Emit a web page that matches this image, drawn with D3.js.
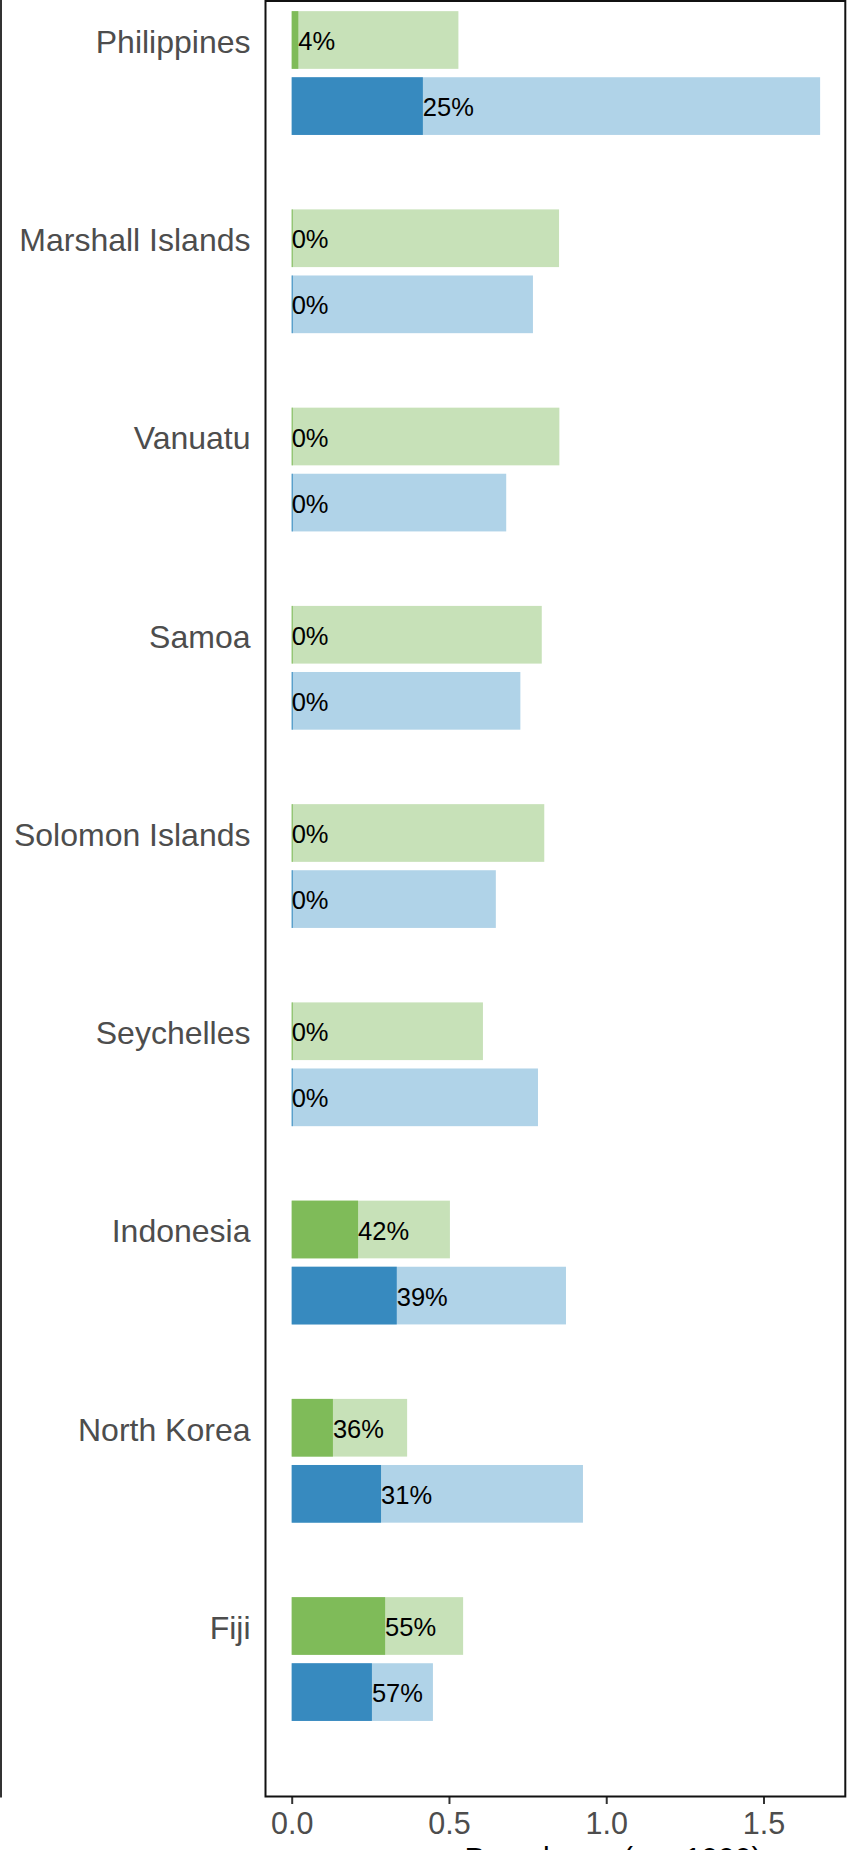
<!DOCTYPE html>
<html>
<head>
<meta charset="utf-8">
<script src="https://cdn.jsdelivr.net/npm/d3@7"></script>
<style>
  html, body { margin: 0; padding: 0; background: #fff; }
  svg { display: block; font-family: "Liberation Sans", Arial, Helvetica, sans-serif; }
</style>
</head>
<body>
<svg id="chart" width="851" height="1850"></svg>
<script>
// ---- data ----
const countries = ["Philippines", "Marshall Islands", "Vanuatu", "Samoa", "Solomon Islands",
                   "Seychelles", "Indonesia", "North Korea", "Fiji"];
// green series (upper bar of each pair)
const greenTotal = [0.530, 0.850, 0.851, 0.795, 0.803, 0.608, 0.503, 0.367, 0.545];
const greenPart  = [0.021, 0, 0, 0, 0, 0, 0.211, 0.131, 0.297];
const greenLabel = ["4%", "0%", "0%", "0%", "0%", "0%", "42%", "36%", "55%"];
// blue series (lower bar of each pair)
const blueTotal  = [1.680, 0.767, 0.682, 0.727, 0.649, 0.783, 0.872, 0.926, 0.449];
const bluePart   = [0.417, 0, 0, 0, 0, 0, 0.334, 0.284, 0.255];
const blueLabel  = ["25%", "0%", "0%", "0%", "0%", "0%", "39%", "31%", "57%"];
const xTicks = [0, 0.5, 1.0, 1.5];
const xTitle = "Prevalence (per 1000)";

// ---- layout ----
const svg = d3.select("#chart");
const panel = { left: 265.5, right: 845.3, top: 1, bottom: 1796.5 };
const col = {
  greenLight: "#c7e1b8", greenDark: "#7fbb59",
  blueLight: "#b0d3e8", blueDark: "#378abf"
};

const x = d3.scaleLinear().domain([0, 1.5]).range([291.7, 763.5]);
const y = d3.scalePoint().domain(countries).range([40, 1626]);
const step = y.step();
const barH = step * 0.291;
const blueOffset = step / 3;

// outer left line (neighbouring panel edge)
svg.append("line")
  .attr("x1", 1).attr("x2", 1).attr("y1", 0).attr("y2", 1797.5)
  .attr("stroke", "#333").attr("stroke-width", 2);

// bars
const rows = countries.map((c, i) => ({
  c, i,
  g: { total: greenTotal[i], part: greenPart[i], label: greenLabel[i] },
  b: { total: blueTotal[i], part: bluePart[i], label: blueLabel[i] }
}));

const g = svg.append("g");
function drawBar(cy, d, light, dark) {
  g.append("rect")
    .attr("x", x(0)).attr("y", cy - barH / 2)
    .attr("width", x(d.total) - x(0)).attr("height", barH)
    .attr("fill", light);
  g.append("rect")
    .attr("x", x(0)).attr("y", cy - barH / 2)
    .attr("width", Math.max(x(d.part) - x(0), 1)).attr("height", barH)
    .attr("fill", dark);
  g.append("text")
    .attr("x", x(d.part)).attr("y", cy + 10)
    .attr("font-size", 25.5).attr("fill", "#000")
    .text(d.label);
}
rows.forEach(r => {
  const cy = y(r.c);
  drawBar(cy, r.g, col.greenLight, col.greenDark);
  drawBar(cy + blueOffset, r.b, col.blueLight, col.blueDark);
});

// y axis labels
const yAxis = svg.append("g")
  .attr("transform", `translate(${panel.left},0)`)
  .call(d3.axisLeft(y).tickSize(0).tickPadding(15));
yAxis.select(".domain").remove();
yAxis.selectAll("text")
  .attr("font-size", 32).attr("fill", "#4d4d4d").attr("dy", "0.39em")
  .attr("font-family", "'Liberation Sans', Arial, sans-serif");

// x axis
const xAxis = svg.append("g")
  .attr("transform", `translate(0,${panel.bottom + 0.5})`)
  .call(d3.axisBottom(x).tickValues(xTicks).tickFormat(d3.format(".1f")).tickSize(7).tickPadding(8));
xAxis.select(".domain").remove();
xAxis.selectAll(".tick line").attr("stroke", "#333").attr("stroke-width", 2);
xAxis.selectAll("text")
  .attr("font-size", 30.5).attr("fill", "#4d4d4d")
  .attr("font-family", "'Liberation Sans', Arial, sans-serif");

// panel border
svg.append("rect")
  .attr("x", panel.left).attr("y", panel.top)
  .attr("width", panel.right - panel.left).attr("height", panel.bottom - panel.top)
  .attr("fill", "none").attr("stroke", "#111").attr("stroke-width", 2);

// x axis title (cut off by the bottom edge, as in the reference)
svg.append("text")
  .attr("x", 613).attr("y", 1868)
  .attr("text-anchor", "middle")
  .attr("font-size", 30).attr("fill", "#000")
  .text(xTitle);
</script>
</body>
</html>
